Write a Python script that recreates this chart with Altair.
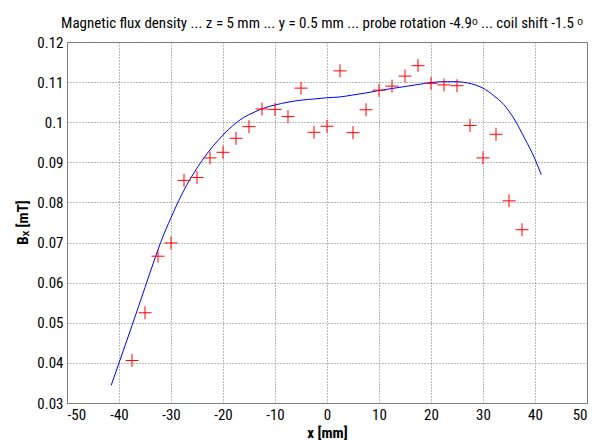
import altair as alt
import pandas as pd

# measured points (red crosses)
meas_x = [-37.5, -35, -32.5, -30, -27.5, -25, -22.5, -20, -17.5, -15, -12.5,
          -10, -7.5, -5, -2.5, 0, 2.5, 5, 7.5, 10, 12.5, 15, 17.5, 20, 22.5,
          25, 27.5, 30, 32.5, 35, 37.5]
meas_b = [0.0406, 0.0525, 0.0666, 0.0699, 0.0855, 0.0862, 0.0911, 0.0925,
          0.0960, 0.0989, 0.1033, 0.1032, 0.1014, 0.1085, 0.0975, 0.0990,
          0.1128, 0.0974, 0.1031, 0.1080, 0.1090, 0.1115, 0.1141, 0.1097,
          0.1093, 0.1091, 0.0992, 0.0911, 0.0970, 0.0804, 0.0732]

# model curve (blue line)
curve_x = [-41.5, -40, -37.5, -35, -33, -32, -30, -28, -26, -24, -22, -20,
           -18, -16, -14, -12, -10, -7.5, -5, -2.5, 0, 2.5, 5, 7.5, 10, 12.5,
           15, 17.5, 20, 22.5, 25, 27, 28.5, 30, 32, 34, 36, 38, 40, 41.2]
curve_b = [0.0344, 0.0400, 0.0493, 0.0588, 0.0664, 0.0700, 0.0762, 0.0818,
           0.0865, 0.0905, 0.0939, 0.0968, 0.0993, 0.1012, 0.1025, 0.1036,
           0.1043, 0.1050, 0.1055, 0.1058, 0.1061, 0.1063, 0.1068, 0.1073,
           0.1079, 0.1084, 0.1089, 0.1094, 0.1099, 0.1101, 0.1101, 0.1098,
           0.1093, 0.1085, 0.1067, 0.1044, 0.1008, 0.0960, 0.0908, 0.0869]

x_ticks = [-50, -40, -30, -20, -10, 0, 10, 20, 30, 40, 50]
y_ticks = [0.03, 0.04, 0.05, 0.06, 0.07, 0.08, 0.09, 0.10, 0.11, 0.12]

title_text = ("Magnetic flux density ... z = 5 mm ... y = 0.5 mm ... "
              "probe rotation -4.9\u1d52 ... coil shift -1.5 \u1d52")

FONT = "Roboto Condensed, Liberation Sans"

meas = pd.DataFrame({"x": meas_x, "b": meas_b})
curve = pd.DataFrame({"x": curve_x, "b": curve_b})

xscale = alt.Scale(domain=[-50, 50], nice=False, zero=False)
yscale = alt.Scale(domain=[0.03, 0.12], nice=False, zero=False)

xaxis = alt.Axis(values=x_ticks, title="x [mm]", grid=True, ticks=False,
                 labelExpr="'' + datum.value", labelPadding=4,
                 titleY=34, titleBaseline="alphabetic")
yaxis = alt.Axis(values=y_ticks, title="B\u2093 [mT]", grid=True, ticks=False,
                 labelExpr="format(datum.value, '.2~f')", labelPadding=4,
                 titleX=-45, titleY=180, titleAngle=270,
                 titleAlign="center", titleBaseline="middle")

line = alt.Chart(curve).mark_line(color="#0000FF", strokeWidth=1,
                                  interpolate="monotone", clip=True).encode(
    x=alt.X("x:Q", scale=xscale, axis=xaxis),
    y=alt.Y("b:Q", scale=yscale, axis=yaxis),
)

pts = alt.Chart(meas).mark_point(
    shape="M-1,0L1,0M0,-1L0,1", size=169, filled=False,
    color="#FF0000", strokeWidth=1, opacity=1
).encode(
    x=alt.X("x:Q", scale=xscale),
    y=alt.Y("b:Q", scale=yscale),
)

chart = alt.layer(line, pts).properties(
    width=520, height=361,
    padding={"left": 67, "top": 42, "right": 25, "bottom": 37},
    autosize=alt.AutoSizeParams(type="none"),
    background="white",
    title=alt.TitleParams(text=title_text, font=FONT, fontSize=15,
                          fontWeight="normal", color="black",
                          anchor="middle", frame="group",
                          baseline="alphabetic",
                          offset=8, dx=-5, dy=16),
).configure_view(
    stroke="#808080", strokeWidth=1
).configure_axis(
    domainColor="#808080", domainWidth=1,
    gridColor="#777777", gridDash=[1, 2], gridWidth=1, gridOpacity=1,
    labelFont=FONT, labelFontSize=15, labelColor="black",
    titleFont=FONT, titleFontSize=15, titleFontWeight="bold",
    titleColor="black",
)

chart.save("out.html", embed_options={"renderer": "svg", "actions": False})
